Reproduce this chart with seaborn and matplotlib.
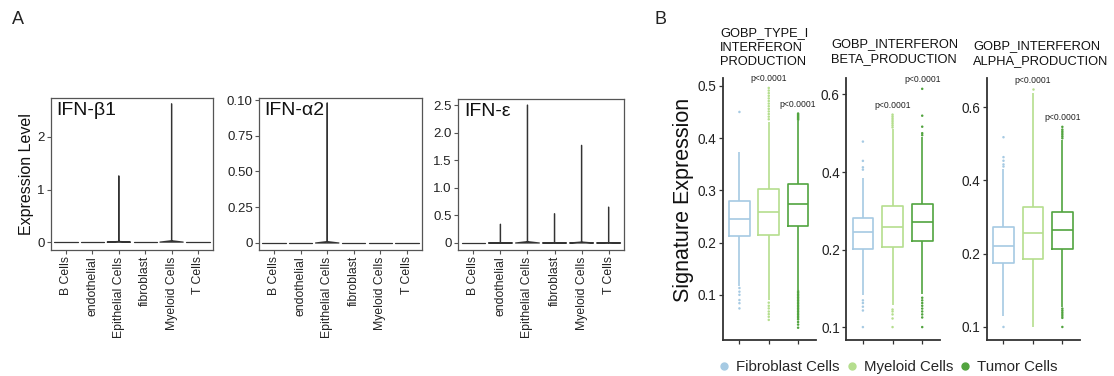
import numpy as np
import pandas as pd
import matplotlib
matplotlib.use("Agg")
import matplotlib.pyplot as plt
from matplotlib.lines import Line2D
import seaborn as sns

# ---------------- data: panel A (violin plots) ----------------
cell_types = ["B Cells", "endothelial", "Epithelial Cells", "fibroblast", "Myeloid Cells", "T Cells"]
genes = ["IFN-β1", "IFN-α2", "IFN-ε"]
# maximum expression per cell type; all remaining cells express 0
ifnb1_max = [0, 0, 1.26, 0, 2.63, 0]
ifna2_max = [0, 0, 0.98, 0, 0, 0]
ifne_max = [0, 0.34, 2.50, 0.53, 1.77, 0.65]
zero_cells_per_type = 200

a_yticks = [[0, 1, 2], [0, 0.25, 0.50, 0.75, 1.0], [0, 0.5, 1.0, 1.5, 2.0, 2.5]]
a_yticklabels = [["0", "1", "2"], ["0", "0.25", "0.50", "0.75", "0.10"],
                 ["0", "0.5", "1.0", "1.5", "2.0", "2.5"]]

# ---------------- data: panel B (box plots) ----------------
groups = ["Fibroblast Cells", "Myeloid Cells", "Tumor Cells"]
colors = ["#a6cae3", "#b5de8e", "#52a43f"]
signatures = ["GOBP_TYPE_I\nINTERFERON\nPRODUCTION",
              "GOBP_INTERFERON\nBETA_PRODUCTION",
              "GOBP_INTERFERON\nALPHA_PRODUCTION"]
# box summary per group: [lower whisker, Q1, median, Q3, upper whisker]
type1_box = {"Fibroblast Cells": [0.116, 0.213, 0.246, 0.279, 0.374],
             "Myeloid Cells":    [0.090, 0.215, 0.259, 0.302, 0.430],
             "Tumor Cells":      [0.110, 0.231, 0.273, 0.312, 0.432]}
beta_box = {"Fibroblast Cells": [0.133, 0.201, 0.233, 0.265, 0.378],
            "Myeloid Cells":    [0.122, 0.204, 0.245, 0.294, 0.500],
            "Tumor Cells":      [0.135, 0.215, 0.256, 0.301, 0.480]}
alpha_box = {"Fibroblast Cells": [0.111, 0.183, 0.216, 0.257, 0.425],
             "Myeloid Cells":    [0.100, 0.190, 0.243, 0.311, 0.650],
             "Tumor Cells":      [0.121, 0.209, 0.251, 0.297, 0.500]}
# outlying cells
type1_out = {"Fibroblast Cells": [0.113, 0.106, 0.100, 0.090, 0.084, 0.074, 0.450],
             "Myeloid Cells": [0.085, 0.079, 0.074, 0.068, 0.063, 0.058, 0.052,
                               0.436, 0.441, 0.446, 0.451, 0.456, 0.461, 0.466, 0.471,
                               0.476, 0.481, 0.486, 0.491, 0.496],
             "Tumor Cells": [0.107, 0.104, 0.101, 0.098, 0.095, 0.092, 0.089, 0.086, 0.083,
                             0.080, 0.077, 0.074, 0.071, 0.068, 0.065, 0.062, 0.059, 0.056,
                             0.053, 0.048, 0.043, 0.037,
                             0.435, 0.437, 0.439, 0.441, 0.443, 0.445, 0.447]}
beta_out = {"Fibroblast Cells": [0.127, 0.124, 0.120, 0.116, 0.100, 0.405, 0.410, 0.424, 0.469],
            "Myeloid Cells": [0.117, 0.115, 0.112, 0.108, 0.100,
                              0.505, 0.510, 0.515, 0.520, 0.525, 0.530, 0.535, 0.540],
            "Tumor Cells": [0.130, 0.127, 0.124, 0.121, 0.118, 0.115, 0.112, 0.109, 0.100,
                            0.485, 0.490, 0.507, 0.537, 0.618]}
alpha_out = {"Fibroblast Cells": [0.100, 0.432, 0.437, 0.446, 0.455, 0.508],
             "Myeloid Cells": [0.662],
             "Tumor Cells": [0.119, 0.117, 0.115, 0.113, 0.111, 0.109, 0.100,
                             0.505, 0.510, 0.515, 0.520, 0.525, 0.530, 0.538]}
pvalue_text = "p<0.0001"
pvalue_groups = ["Myeloid Cells", "Tumor Cells"]
b_yticks = [[0.1, 0.2, 0.3, 0.4, 0.5], [0.1, 0.2, 0.4, 0.6], [0.1, 0.2, 0.4, 0.6]]

# ---------------- figure ----------------
sns.set_theme(style="white")
plt.rcParams["font.family"] = ["Liberation Sans", "DejaVu Sans"]
W, H = 1114, 376
fig = plt.figure(figsize=(W / 100, H / 100), dpi=100)


def px_axes(l, t, r, b):
    return fig.add_axes([l / W, 1 - b / H, (r - l) / W, (b - t) / H])


# ---- panel A ----
a_boxes = [(51, 98, 213, 250), (259, 98, 422, 250), (458, 99, 624, 250)]
a_ylims = [(-0.15, 2.74), (-0.049, 1.014), (-0.127, 2.61)]
a_max = [ifnb1_max, ifna2_max, ifne_max]
for i in range(3):
    rows = []
    for ct, mx in zip(cell_types, a_max[i]):
        vals = [0.0] * zero_cells_per_type + ([mx] if mx > 0 else [])
        rows += [(ct, v) for v in vals]
    df = pd.DataFrame(rows, columns=["cell", "expr"])
    ax = px_axes(*a_boxes[i])
    sns.violinplot(data=df, x="cell", y="expr", order=cell_types, ax=ax,
                   inner=None, cut=0, density_norm="width", bw_adjust=0.05,
                   width=0.88, fill=False, color="#333333", linewidth=0.9)
    ax.set_xlim(-0.57, 5.57)
    ax.set_ylim(*a_ylims[i])
    ax.set_yticks(a_yticks[i])
    ax.set_yticklabels(a_yticklabels[i], fontsize=9.5)
    ax.set_xticks(range(len(cell_types)))
    ax.set_xticklabels(cell_types, rotation=90, fontsize=8.8)
    ax.set_xlabel("")
    ax.set_ylabel("")
    for s in ax.spines.values():
        s.set_visible(True)
        s.set_color("#555555")
        s.set_linewidth(0.9)
    ax.tick_params(axis="both", direction="out", length=3, width=0.8, color="#555555",
                   pad=1.5, left=True, bottom=True, labelcolor="#222222")
    ax.text(0.035, 0.975, genes[i], transform=ax.transAxes, ha="left", va="top",
            fontsize=14, color="#111111")

fig.text(27 / W, 1 - 174 / H, "Expression Level", rotation=90, ha="center", va="center",
         fontsize=11.5, color="#111111")
fig.text(12 / W, 1 - 20 / H, "A", fontsize=13, ha="left", va="center", color="#222222")
fig.text(655 / W, 1 - 20 / H, "B", fontsize=13, ha="left", va="center", color="#222222")


# ---- panel B ----
def make_scale(knots):
    lk = np.log(np.asarray(knots, float))
    idx = np.arange(len(knots), dtype=float)

    def fwd(v):
        lv = np.log(np.clip(np.asarray(v, float), 1e-6, None))
        out = np.interp(lv, lk, idx)
        out = np.where(lv < lk[0], (lv - lk[0]) / (lk[1] - lk[0]), out)
        out = np.where(lv > lk[-1], idx[-1] + (lv - lk[-1]) / (lk[-1] - lk[-2]), out)
        return out

    def inv(d):
        d = np.asarray(d, float)
        lv = np.interp(d, idx, lk)
        lv = np.where(d < 0, lk[0] + d * (lk[1] - lk[0]), lv)
        lv = np.where(d > idx[-1], lk[-1] + (d - idx[-1]) * (lk[-1] - lk[-2]), lv)
        return np.exp(lv)
    return fwd, inv


b_boxes = [(722.7, 78, 815.7, 340), (846, 78, 940, 340), (986.7, 78, 1080, 340)]
b_ylims = [(0.0135, 0.515), (0.0891, 0.654), (0.0884, 0.705)]
b_data = [(type1_box, type1_out), (beta_box, beta_out), (alpha_box, alpha_out)]
title_pos = [(720, 27), (831, 38), (973, 40)]
pal = dict(zip(groups, colors))
for i in range(3):
    box, out = b_data[i]
    ax = px_axes(*b_boxes[i])
    if i > 0:
        fwd, inv = make_scale([0.1, 0.2, 0.4, 0.6])
        ax.set_yscale("function", functions=(fwd, inv))
    dfb = pd.DataFrame([(g, v) for g in groups for v in box[g]], columns=["group", "value"])
    dfo = pd.DataFrame([(g, v) for g in groups for v in out[g]], columns=["group", "value"])
    sns.boxplot(data=dfb, x="group", y="value", hue="group", order=groups, hue_order=groups,
                palette=pal, fill=False, width=0.7, whis=(0, 100), showfliers=False,
                showcaps=False, linewidth=1.2, ax=ax, legend=False)
    sns.stripplot(data=dfo, x="group", y="value", hue="group", order=groups, hue_order=groups,
                  palette=pal, jitter=False, size=1.8, linewidth=0, ax=ax, legend=False)
    ax.set_xlim(-0.57, 2.6)
    ax.set_ylim(*b_ylims[i])
    ax.set_yticks(b_yticks[i])
    ax.set_yticklabels([f"{t:g}" for t in b_yticks[i]], fontsize=9.8)
    ax.yaxis.set_minor_locator(matplotlib.ticker.NullLocator())
    ax.set_xticks(range(3))
    ax.set_xticklabels([])
    ax.set_xlabel("")
    ax.set_ylabel("")
    for side in ["top", "right"]:
        ax.spines[side].set_visible(False)
    for side in ["left", "bottom"]:
        ax.spines[side].set_color("#333333")
        ax.spines[side].set_linewidth(1.3)
    ax.tick_params(axis="both", direction="out", length=3, width=0.9, color="#333333",
                   pad=1.5, left=True, bottom=True, labelcolor="#222222")
    for g in pvalue_groups:
        top = max(box[g][-1], max(out[g]))
        ax.annotate(pvalue_text, xy=(groups.index(g), top), xytext=(0, 6.5),
                    textcoords="offset points", ha="center", va="center",
                    fontsize=6.2, color="#222222")
    tx, ty = title_pos[i]
    fig.text(tx / W, 1 - ty / H, signatures[i], ha="left", va="top", fontsize=9.3,
             linespacing=1.3, color="#111111")

fig.text(684 / W, 1 - 200 / H, "Signature Expression", rotation=90, ha="center",
         va="center", fontsize=15.5, color="#111111")

handles = [Line2D([], [], marker="o", linestyle="none", markersize=5,
                  markerfacecolor=c, markeredgecolor=c) for c in colors]
fig.legend(handles, groups, loc="center", bbox_to_anchor=(887 / W, 1 - 367 / H), ncol=3,
           frameon=False, fontsize=10.8, handletextpad=0.3, columnspacing=0.3,
           handlelength=1.0, borderaxespad=0)

fig.savefig("out.png", dpi=100)
